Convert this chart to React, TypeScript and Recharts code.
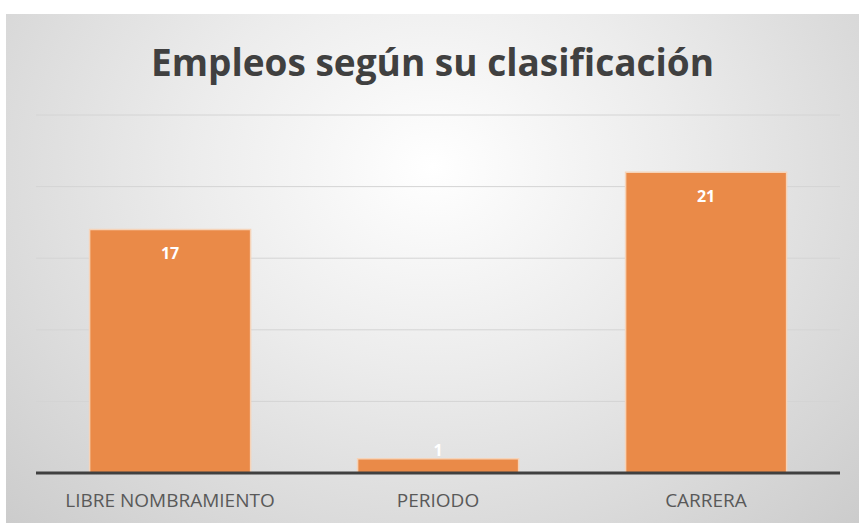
import React from 'react';
import { BarChart, Bar, XAxis, YAxis, CartesianGrid, LabelList, ReferenceLine } from 'recharts';

const categories = ['LIBRE NOMBRAMIENTO', 'PERIODO', 'CARRERA'];
const empleos = [17, 1, 21];
const yTicks = [0, 5, 10, 15, 20, 25];

const data = categories.map((name, i) => ({ name, empleos: empleos[i] }));

const font = '"Open Sans", "Liberation Sans", sans-serif';
const narrow = '"Liberation Sans Narrow", "Open Sans", sans-serif';

const ValueLabel = (props: any) => {
  const { x, y, width, height, value } = props;
  const inside = height > 30;
  return (
    <text
      x={x + width / 2}
      y={inside ? y + 25 : y - 7}
      textAnchor="middle"
      dominantBaseline="middle"
      fill="#ffffff"
      fontFamily={font}
      fontWeight={700}
      fontSize={16}
    >
      {value}
    </text>
  );
};

const App: React.FC = () => {
  return (
    <div
      style={{
        position: 'absolute',
        left: 6,
        top: 14,
        width: 853,
        height: 509,
        background: 'radial-gradient(ellipse at 50% 30%, #ffffff 0%, #ececec 40%, #cccccc 100%)',
      }}
    >
      <div
        style={{
          position: 'absolute',
          top: 22,
          left: 0,
          width: 853,
          textAlign: 'center',
          fontFamily: font,
          fontWeight: 700,
          fontSize: 37,
          color: '#404040',
        }}
      >
        Empleos según su clasificación
      </div>
      <BarChart
        width={853}
        height={509}
        data={data}
        margin={{ top: 101, right: 19, left: 30, bottom: 0 }}
        barCategoryGap="20%"
      >
        <CartesianGrid vertical={false} stroke="#d4d4d4" strokeWidth={1} />
        <XAxis
          dataKey="name"
          axisLine={false}
          tickLine={false}
          height={50}
          tick={{ fontSize: 19, fill: '#595959', fontFamily: narrow }}
          tickMargin={15}
        />
        <YAxis hide domain={[0, 25]} ticks={yTicks} />
        <Bar
          dataKey="empleos"
          fill="#EA8A48"
          stroke="#F6D3B8"
          strokeWidth={1.5}
          isAnimationActive={false}
        >
          <LabelList dataKey="empleos" content={ValueLabel} />
        </Bar>
        <ReferenceLine y={0} stroke="#404040" strokeWidth={3} />
      </BarChart>
    </div>
  );
};

export default App;
